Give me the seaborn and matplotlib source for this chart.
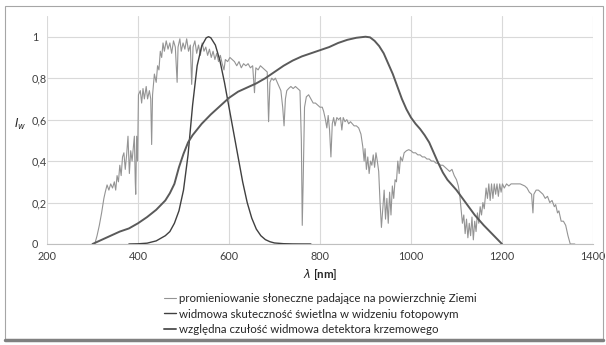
import numpy as np
import pandas as pd
import matplotlib
matplotlib.use("Agg")
import matplotlib.pyplot as plt
import seaborn as sns
from matplotlib.patches import Rectangle
from matplotlib.lines import Line2D

# ---------------- data ----------------
solar_nm = [300, 305, 310, 315, 320, 325, 328, 332, 336, 340, 344, 348, 351, 354, 357, 360, 363, 366, 369,
            372, 375, 378, 381, 384, 387, 390, 392, 394, 395, 397, 399, 401, 405, 408, 411, 414, 418, 421,
            425, 428, 430, 432, 436, 440, 443, 446, 449, 452, 455, 458, 462, 466, 470, 474, 478, 482, 486,
            488, 492, 495, 499, 503, 507, 511, 515, 518, 521, 525, 529, 533, 537, 541, 545, 549, 553, 557,
            561, 565, 569, 573, 577, 581, 585, 589, 592, 597, 602, 607, 612, 617, 622, 627, 632, 637, 642,
            647, 652, 656, 659, 664, 669, 674, 679, 684, 687, 690, 694, 698, 702, 706, 710, 714, 718, 721,
            724, 727, 731, 736, 741, 746, 751, 756, 759, 761, 763, 766, 770, 775, 780, 785, 790, 795, 800,
            805, 808, 812, 815, 818, 821, 824, 827, 830, 833, 837, 841, 845, 848, 851, 855, 859, 863, 867,
            871, 875, 880, 885, 890, 894, 897, 899, 902, 905, 908, 911, 914, 917, 920, 923, 926, 929, 932,
            935, 938, 941, 944, 947, 950, 953, 956, 959, 962, 965, 968, 971, 974, 977, 981, 985, 990, 995,
            1000, 1005, 1010, 1015, 1020, 1025, 1030, 1035, 1040, 1045, 1050, 1055, 1060, 1065, 1070, 1075,
            1080, 1085, 1090, 1095, 1100, 1104, 1107, 1110, 1113, 1116, 1119, 1122, 1125, 1128, 1131, 1134,
            1137, 1140, 1143, 1146, 1149, 1152, 1155, 1158, 1161, 1165, 1168, 1171, 1174, 1177, 1180, 1183,
            1186, 1189, 1192, 1195, 1198, 1201, 1205, 1210, 1215, 1220, 1230, 1240, 1250, 1255, 1260, 1265,
            1268, 1270, 1275, 1280, 1285, 1290, 1295, 1300, 1305, 1310, 1315, 1318, 1322, 1325, 1330, 1335,
            1340, 1345, 1350, 1360]
solar_val = [0.0, 0.0, 0.04, 0.09, 0.15, 0.22, 0.25, 0.285, 0.26, 0.29, 0.27, 0.30, 0.26, 0.33, 0.30, 0.38,
             0.33, 0.42, 0.44, 0.36, 0.43, 0.52, 0.34, 0.45, 0.40, 0.47, 0.52, 0.30, 0.24, 0.52, 0.40, 0.72,
             0.74, 0.68, 0.75, 0.70, 0.76, 0.70, 0.74, 0.70, 0.48, 0.72, 0.82, 0.78, 0.86, 0.84, 0.93, 0.90,
             0.97, 0.93, 0.98, 0.94, 0.97, 0.92, 0.98, 0.95, 0.78, 0.95, 0.99, 0.93, 0.97, 0.94, 0.99, 0.93,
             0.96, 0.77, 0.95, 0.98, 0.92, 0.96, 0.91, 0.97, 0.93, 0.95, 0.91, 0.94, 0.90, 0.93, 0.89, 0.92,
             0.88, 0.91, 0.87, 0.84, 0.89, 0.88, 0.90, 0.89, 0.88, 0.86, 0.88, 0.85, 0.87, 0.86, 0.87, 0.85,
             0.86, 0.73, 0.85, 0.84, 0.86, 0.85, 0.84, 0.83, 0.59, 0.78, 0.80, 0.79, 0.80, 0.78, 0.76, 0.74,
             0.66, 0.57, 0.70, 0.74, 0.75, 0.76, 0.75, 0.76, 0.75, 0.74, 0.50, 0.09, 0.30, 0.66, 0.71, 0.72,
             0.70, 0.68, 0.68, 0.67, 0.66, 0.66, 0.64, 0.60, 0.56, 0.62, 0.55, 0.42, 0.58, 0.61, 0.57, 0.61,
             0.60, 0.61, 0.55, 0.61, 0.59, 0.60, 0.58, 0.59, 0.58, 0.57, 0.57, 0.56, 0.53, 0.47, 0.40, 0.46,
             0.36, 0.42, 0.34, 0.40, 0.38, 0.43, 0.37, 0.44, 0.40, 0.35, 0.20, 0.08, 0.17, 0.26, 0.12, 0.22,
             0.10, 0.25, 0.14, 0.28, 0.22, 0.31, 0.30, 0.40, 0.34, 0.42, 0.40, 0.44, 0.45, 0.455, 0.45, 0.44,
             0.44, 0.43, 0.43, 0.42, 0.42, 0.41, 0.41, 0.40, 0.40, 0.39, 0.39, 0.38, 0.38, 0.37, 0.36, 0.35,
             0.36, 0.33, 0.31, 0.28, 0.24, 0.17, 0.10, 0.14, 0.05, 0.12, 0.03, 0.10, 0.04, 0.13, 0.02, 0.11,
             0.06, 0.15, 0.10, 0.18, 0.14, 0.20, 0.17, 0.27, 0.22, 0.29, 0.21, 0.29, 0.22, 0.29, 0.24, 0.29,
             0.23, 0.29, 0.25, 0.29, 0.27, 0.29, 0.28, 0.29, 0.29, 0.29, 0.28, 0.27, 0.25, 0.24, 0.15, 0.24,
             0.26, 0.26, 0.25, 0.24, 0.22, 0.23, 0.20, 0.21, 0.18, 0.19, 0.15, 0.16, 0.11, 0.11, 0.09, 0.04,
             0.00, 0.00]

photopic_nm = [380, 400, 420, 440, 460, 470, 480, 490, 500, 510, 520, 530, 540, 550, 555, 560, 570, 580,
               590, 600, 610, 620, 630, 640, 650, 660, 670, 680, 690, 700, 720, 740, 760, 780]
photopic_val = [0.0, 0.001, 0.004, 0.015, 0.04, 0.06, 0.10, 0.16, 0.26, 0.43, 0.67, 0.86, 0.955, 0.995,
                1.0, 0.995, 0.96, 0.885, 0.78, 0.66, 0.54, 0.42, 0.30, 0.20, 0.125, 0.072, 0.04, 0.021,
                0.011, 0.005, 0.0015, 0.0004, 0.0001, 0.0]

silicon_nm = [300, 320, 340, 360, 380, 400, 420, 440, 460, 470, 480, 490, 500, 510, 520, 540, 560, 580,
              600, 620, 640, 660, 680, 700, 720, 740, 760, 780, 800, 820, 840, 860, 880, 900, 910, 920,
              930, 940, 950, 960, 970, 980, 990, 1000, 1010, 1020, 1030, 1040, 1050, 1060, 1070, 1080,
              1090, 1100, 1110, 1120, 1140, 1160, 1180, 1200]
silicon_val = [0.0, 0.02, 0.04, 0.06, 0.075, 0.10, 0.13, 0.165, 0.21, 0.245, 0.29, 0.37, 0.435, 0.49,
               0.525, 0.58, 0.625, 0.665, 0.705, 0.735, 0.755, 0.775, 0.80, 0.83, 0.86, 0.885, 0.905,
               0.92, 0.935, 0.95, 0.97, 0.985, 0.995, 1.0, 0.997, 0.98, 0.955, 0.92, 0.87, 0.82, 0.76,
               0.70, 0.65, 0.61, 0.58, 0.555, 0.525, 0.49, 0.44, 0.39, 0.345, 0.31, 0.285, 0.26, 0.23,
               0.20, 0.14, 0.09, 0.045, 0.0]

labels = ["promieniowanie słoneczne padające na powierzchnię Ziemi",
          "widmowa skuteczność świetlna w widzeniu fotopowym",
          "względna czułość widmowa detektora krzemowego"]
x_ticks = [200, 400, 600, 800, 1000, 1200, 1400]
y_ticks = [0, 0.2, 0.4, 0.6, 0.8, 1.0]
y_ticklabels = ["0", "0,2", "0,4", "0,6", "0,8", "1"]

colors = ["#949494", "#404040", "#5a5a5a"]
widths = [0.8, 1.0, 1.4]

# ---------------- plot ----------------
sns.set_style("white")
plt.rcParams["font.family"] = ["Lato", "DejaVu Sans"]

fig = plt.figure(figsize=(6.06, 3.45), dpi=100)
W, H = 606, 345
ax = fig.add_axes([47 / W, (H - 244) / H, 546 / W, 228 / H])

df_s = pd.DataFrame({"nm": solar_nm, "v": solar_val})
df_p = pd.DataFrame({"nm": photopic_nm, "v": photopic_val})
df_k = pd.DataFrame({"nm": silicon_nm, "v": silicon_val})

sns.lineplot(data=df_s, x="nm", y="v", ax=ax, color=colors[0], lw=widths[0], sort=False, estimator=None, zorder=3)
sns.lineplot(data=df_p, x="nm", y="v", ax=ax, color=colors[1], lw=widths[1], sort=False, estimator=None, zorder=4)
sns.lineplot(data=df_k, x="nm", y="v", ax=ax, color=colors[2], lw=widths[2], sort=False, estimator=None, zorder=5)

ax.set_xlim(200, 1400)
ax.set_ylim(0, 1.1)
ax.set_xticks(x_ticks)
ax.set_xticklabels([str(t) for t in x_ticks])
ax.set_yticks(y_ticks)
ax.set_yticklabels(y_ticklabels)
ax.grid(True, color="#d9d9d9", lw=0.8)
ax.set_axisbelow(True)
for s in ["top", "right", "left"]:
    ax.spines[s].set_visible(False)
ax.spines["bottom"].set_color("#bfbfbf")
ax.spines["bottom"].set_linewidth(0.8)
ax.tick_params(axis="both", length=0, labelsize=7.8, labelcolor="#404040")
ax.tick_params(axis="x", pad=5)
ax.tick_params(axis="y", pad=11)
for lab in ax.get_yticklabels():
    lab.set_horizontalalignment("left")

ax.set_xlabel(r"$\lambda$ [nm]", fontsize=8.3, fontweight="bold", color="#262626", labelpad=4)
ax.set_ylabel(r"$I_w$", fontsize=8.5, fontweight="bold", rotation=0, color="#262626")
ax.yaxis.set_label_coords(-0.05, 0.49)

handles = [Line2D([0], [0], color=c, lw=w) for c, w in zip(colors, widths)]
fig.legend(handles, labels, loc="center", bbox_to_anchor=(320 / W, (H - 314) / H), frameon=False,
           fontsize=8.3, handlelength=1.1, handletextpad=0.2, labelspacing=0.35, ncol=1,
           labelcolor="#262626")

# outer chart border
fig.add_artist(Rectangle((5 / W, 5 / H), 598 / W, 334 / H, transform=fig.transFigure,
                         fill=False, edgecolor="#a6a6a6", lw=0.8))
fig.add_artist(Line2D([5 / W, 603 / W], [5 / H, 5 / H], transform=fig.transFigure,
                      color="#808080", lw=2.5))

fig.savefig("out.png", dpi=100)
